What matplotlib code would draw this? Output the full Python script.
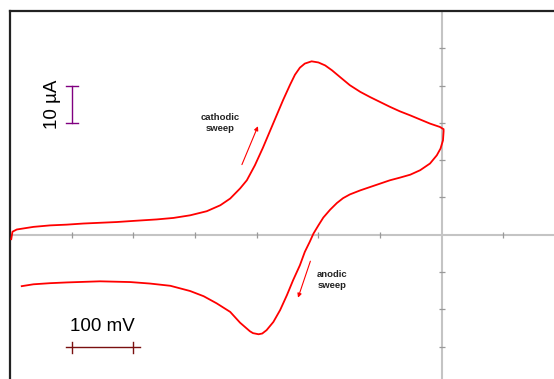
import numpy as np
import matplotlib
matplotlib.use("Agg")
import matplotlib.pyplot as plt

plt.rcParams['font.family'] = ['Liberation Sans', 'DejaVu Sans']

# cathodic sweep (potential in mV, current in uA)
fwd_E = [-698, -696, -689, -662, -635, -608, -581, -554, -527, -500, -462,
         -435, -408, -381, -359, -343, -327, -316, -303, -290, -278, -267,
         -257, -246, -238, -230, -222, -211, -200, -189, -178, -165, -149,
         -132, -116, -100, -84, -68, -51, -35, -19, -3, 3]
fwd_I = [-1.2, 0.8, 1.4, 2.1, 2.5, 2.7, 3.0, 3.2, 3.4, 3.7, 4.1,
         4.5, 5.2, 6.3, 7.9, 9.7, 12.4, 14.6, 18.6, 23.3, 28.0, 32.3,
         36.2, 40.2, 42.9, 44.8, 45.9, 46.5, 46.2, 45.4, 44.1, 42.3, 40.1,
         38.3, 36.9, 35.6, 34.3, 33.1, 32.0, 30.9, 29.8, 28.9, 28.3]

# anodic sweep
rev_E = [3, 2, -2, -8, -19, -35, -51, -68, -84, -100, -116, -132, -149,
         -160, -170, -181, -192, -200, -208, -214, -222, -230, -241, -251,
         -262, -273, -284, -291, -297, -306, -311, -327, -343, -365, -386,
         -408, -440, -473, -505, -554, -608, -635, -662, -681]
rev_I = [27.7, 25.3, 23.1, 21.3, 19.1, 17.3, 16.1, 15.3, 14.6, 13.7, 12.8, 11.9, 10.8,
         9.8, 8.5, 6.7, 4.6, 2.5, 0.3, -1.9, -4.6, -8.2, -12.2, -16.2,
         -20.2, -23.4, -25.6, -26.5, -26.7, -26.4, -25.9, -23.6, -20.7, -18.4, -16.5,
         -15.1, -13.7, -13.1, -12.7, -12.5, -12.8, -13.0, -13.3, -13.8]

x_ticks = [-600, -500, -400, -300, -200, -100, 100]
y_ticks = [-30, -20, -10, 10, 20, 30, 40, 50]

fig = plt.figure(figsize=(5.54, 3.79), dpi=100)
ax = fig.add_axes([10 / 554, 0, 1 - 10 / 554, 1 - 11 / 379])
ax.set_xlim(-700, 182)
ax.set_ylim(-38.7, 60)

for s in ['bottom', 'right']:
    ax.spines[s].set_visible(False)
for s in ['left', 'top']:
    ax.spines[s].set_linewidth(1.6)
    ax.spines[s].set_color('#222222')
ax.set_xticks([])
ax.set_yticks([])

# zero axes with crossing ticks
grey = '#c4c4c4'
ax.axhline(0, color=grey, lw=1.5, zorder=1)
ax.axvline(0, color=grey, lw=1.5, zorder=1)
ax.plot(x_ticks, np.zeros(len(x_ticks)), ls='none', marker='|', ms=5,
        mew=0.9, color='#999999', zorder=1)
ax.plot(np.zeros(len(y_ticks)), y_ticks, ls='none', marker='_', ms=5,
        mew=0.9, color='#999999', zorder=1)

# voltammogram
ax.plot(fwd_E + rev_E, fwd_I + rev_I, color='#ff0000', lw=1.3, zorder=3,
        solid_joinstyle='round')

# scale bars
purple = '#800080'
ax.plot([-600, -600], [30, 40], color=purple, lw=1)
ax.plot([-609, -590], [30, 30], color=purple, lw=1)
ax.plot([-609, -590], [40, 40], color=purple, lw=1)
ax.text(-631, 35, '10 µA', rotation=90, ha='center', va='center', fontsize=13.5)

maroon = '#7a1010'
ax.plot([-609, -490], [-30.1, -30.1], color=maroon, lw=1)
ax.plot([-600, -600], [-28.7, -31.6], color=maroon, lw=1)
ax.plot([-500, -500], [-28.7, -31.6], color=maroon, lw=1)
ax.text(-550, -24.7, '100 mV', ha='center', va='center', fontsize=13.5)

# sweep labels and arrows
ax.text(-359, 29.9, 'cathodic\nsweep', ha='center', va='center', fontsize=6.8,
        fontweight='bold', linespacing=1.35, color='#222222')
ax.annotate('', xy=(-298, 29.1), xytext=(-324, 18.8),
            arrowprops=dict(arrowstyle='-|>', color='#ff0000', lw=0.8,
                            mutation_scale=6, shrinkA=0, shrinkB=0))
ax.text(-178, -12.2, 'anodic\nsweep', ha='center', va='center', fontsize=6.8,
        fontweight='bold', linespacing=1.35, color='#222222')
ax.annotate('', xy=(-233, -16.9), xytext=(-213, -7.1),
            arrowprops=dict(arrowstyle='-|>', color='#ff0000', lw=0.8,
                            mutation_scale=6, shrinkA=0, shrinkB=0))

fig.savefig('out.png', dpi=100)
